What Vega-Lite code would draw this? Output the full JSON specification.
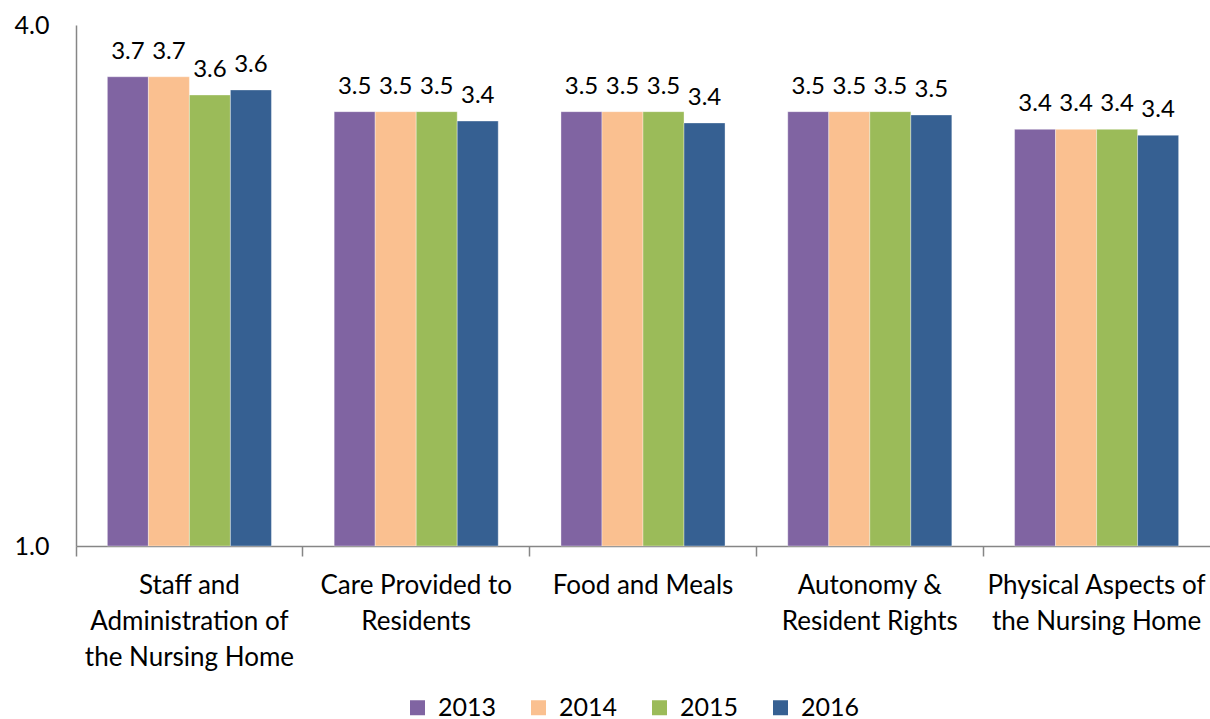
{
  "$schema": "https://vega.github.io/schema/vega-lite/v6.json",
  "autosize": {"type": "none"},
  "padding": {"left": 76, "top": 25, "right": 0, "bottom": 173},
  "width": 1134,
  "height": 521,
  "background": "white",
  "config": {"view": {"stroke": null}, "font": "Lato"},
  "data": {"values": [
    {"category": "Staff and Administration of the Nursing Home", "year": "2013", "score": 3.702},
    {"category": "Staff and Administration of the Nursing Home", "year": "2014", "score": 3.702},
    {"category": "Staff and Administration of the Nursing Home", "year": "2015", "score": 3.597},
    {"category": "Staff and Administration of the Nursing Home", "year": "2016", "score": 3.626},
    {"category": "Care Provided to Residents", "year": "2013", "score": 3.501},
    {"category": "Care Provided to Residents", "year": "2014", "score": 3.501},
    {"category": "Care Provided to Residents", "year": "2015", "score": 3.501},
    {"category": "Care Provided to Residents", "year": "2016", "score": 3.447},
    {"category": "Food and Meals", "year": "2013", "score": 3.501},
    {"category": "Food and Meals", "year": "2014", "score": 3.501},
    {"category": "Food and Meals", "year": "2015", "score": 3.501},
    {"category": "Food and Meals", "year": "2016", "score": 3.436},
    {"category": "Autonomy & Resident Rights", "year": "2013", "score": 3.501},
    {"category": "Autonomy & Resident Rights", "year": "2014", "score": 3.501},
    {"category": "Autonomy & Resident Rights", "year": "2015", "score": 3.501},
    {"category": "Autonomy & Resident Rights", "year": "2016", "score": 3.482},
    {"category": "Physical Aspects of the Nursing Home", "year": "2013", "score": 3.399},
    {"category": "Physical Aspects of the Nursing Home", "year": "2014", "score": 3.399},
    {"category": "Physical Aspects of the Nursing Home", "year": "2015", "score": 3.399},
    {"category": "Physical Aspects of the Nursing Home", "year": "2016", "score": 3.365}
  ]},
  "encoding": {
    "x": {"field": "category", "type": "nominal", "sort": null,
      "scale": {"paddingInner": 0, "paddingOuter": 0}},
    "xOffset": {"field": "year", "type": "nominal",
      "scale": {"paddingInner": 0, "paddingOuter": 0.765}},
    "y": {"field": "score", "type": "quantitative",
      "scale": {"domain": [1, 4], "nice": false, "zero": false},
      "axis": {"values": [1, 4], "format": ".1f", "title": null, "ticks": false, "grid": false,
        "domainColor": "#868686", "domainWidth": 1.5, "labelFontSize": 25, "labelColor": "#000000",
        "labelPadding": 27, "labelFont": "Lato"}}
  },
  "layer": [
    {
      "mark": {"type": "bar", "stroke": "#ffffff", "strokeOpacity": 0.35, "strokeWidth": 1},
      "encoding": {
        "y2": {"datum": 1},
        "x": {"field": "category", "type": "nominal", "sort": null,
          "axis": {"title": null, "ticks": false, "labelAngle": 0, "labelFontSize": 26, "labelColor": "#000000",
            "labelFont": "Lato", "labelLineHeight": 36, "labelPadding": 26, "labelLimit": 400,
            "domainColor": "#868686", "domainWidth": 1.5,
            "labelExpr": "datum.value == 'Staff and Administration of the Nursing Home' ? ['Staff and', 'Administration of', 'the Nursing Home'] : datum.value == 'Care Provided to Residents' ? ['Care Provided to', 'Residents'] : datum.value == 'Autonomy & Resident Rights' ? ['Autonomy &', 'Resident Rights'] : datum.value == 'Physical Aspects of the Nursing Home' ? ['Physical Aspects of', 'the Nursing Home'] : datum.value"}},
        "color": {"field": "year", "type": "nominal",
          "scale": {"domain": ["2013", "2014", "2015", "2016"], "range": ["#8064A2", "#FAC090", "#9BBB59", "#366092"]},
          "legend": {"title": null, "orient": "none", "legendX": 329, "legendY": 670, "direction": "horizontal",
            "symbolType": "square", "symbolSize": 225, "symbolStrokeWidth": 0, "labelFontSize": 25, "labelFont": "Lato",
            "labelColor": "#000000", "columnPadding": 29, "labelOffset": 8}}
      }
    },
    {
      "mark": {"type": "text", "fontSize": 24, "font": "Lato", "color": "#000000", "baseline": "alphabetic", "dy": -18},
      "encoding": {
        "x": {"field": "category", "type": "nominal", "sort": null,
          "axis": {"orient": "bottom", "title": null, "labels": false, "ticks": true, "tickSize": 10, "tickColor": "#868686",
            "tickWidth": 1.5, "bandPosition": 0, "domain": false}},
        "text": {"field": "score", "type": "quantitative", "format": ".1f"}
      }
    }
  ],
  "resolve": {"axis": {"x": "independent"}}
}
